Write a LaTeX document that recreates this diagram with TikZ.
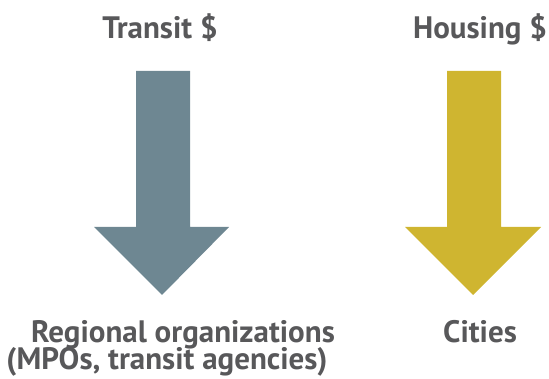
\documentclass[tikz,border=0pt]{standalone}
\usepackage{fontspec}
\setmainfont{PT Sans}
\definecolor{slate}{RGB}{110,135,146}
\definecolor{gold}{RGB}{207,181,48}
\definecolor{txt}{RGB}{88,88,90}
\begin{document}
\begin{tikzpicture}[x=1pt,y=-1pt,
  lbl/.style={text=txt,font=\fontsize{31}{33}\selectfont\bfseries,inner sep=0pt,anchor=base}]
\useasboundingbox (0,0) rectangle (549,379);
\fill[slate] (136,71) -- (190,71) -- (190,227) -- (229,227) -- (162,295) -- (94,227) -- (136,227) -- cycle;
\fill[gold] (447,71) -- (501,71) -- (501,227) -- (541,227) -- (473,295) -- (405,227) -- (447,227) -- cycle;
\node[lbl] (t1) at (160,39) {Transit \$};
\node[lbl] (t2) at (480,39) {Housing \$};
\node[lbl] (b1) at (183,342) {Regional organizations};
\node[lbl] (b2) at (167,370) {(MPOs, transit agencies)};
\node[lbl] (b3) at (480,342) {Cities};
\end{tikzpicture}
\end{document}
